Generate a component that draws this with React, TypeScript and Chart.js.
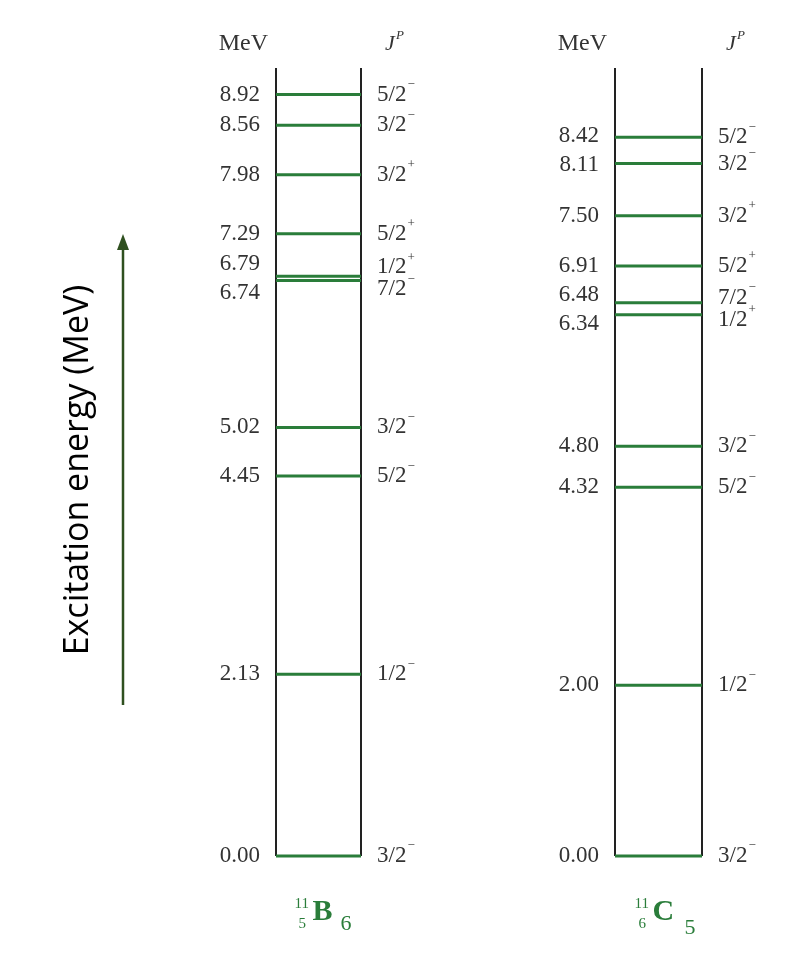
import React, { useEffect, useRef } from "react";
import { Chart, registerables } from "chart.js";
Chart.register(...registerables);

const b11Energies = [0.0, 2.13, 4.45, 5.02, 6.74, 6.79, 7.29, 7.98, 8.56, 8.92];
const b11Spins = ["3/2-", "1/2-", "5/2-", "3/2-", "7/2-", "1/2+", "5/2+", "3/2+", "3/2-", "5/2-"];
const c11Energies = [0.0, 2.0, 4.32, 4.8, 6.34, 6.48, 6.91, 7.5, 8.11, 8.42];
const c11Spins = ["3/2-", "1/2-", "5/2-", "3/2-", "1/2+", "7/2-", "5/2+", "3/2+", "3/2-", "5/2-"];
const nuclei = [
  { a: "11", z: "5", sym: "B", n: "6" },
  { a: "11", z: "6", sym: "C", n: "5" },
];
const yMax = 9.23;

function spread(ys: number[], gap: number): number[] {
  const idx = ys.map((_, i) => i).sort((a, b) => ys[a] - ys[b]);
  const p = idx.map((i) => ys[i]);
  for (let it = 0; it < 200; it++) {
    let moved = false;
    for (let k = 0; k < p.length - 1; k++) {
      const d = p[k + 1] - p[k];
      if (d < gap - 0.01) {
        const s = (gap - d) / 2;
        p[k] -= s; p[k + 1] += s; moved = true;
      }
    }
    if (!moved) break;
  }
  const out = new Array(ys.length);
  idx.forEach((i, k) => (out[i] = p[k]));
  return out;
}

const serif = '"Liberation Serif", "DejaVu Serif", serif';
const green = "#2a7d3a";

const schemePlugin = {
  id: "scheme",
  afterDraw(chart: any) {
    const ctx = chart.ctx;
    const xs = chart.scales.x, ys = chart.scales.y;
    const cols = [
      { x0: 276, x1: 361, e: b11Energies, j: b11Spins, nuc: nuclei[0] },
      { x0: 615, x1: 702, e: c11Energies, j: c11Spins, nuc: nuclei[1] },
    ];
    ctx.save();
    ctx.save();
    ctx.translate(78, 470);
    ctx.rotate(-Math.PI / 2);
    ctx.fillStyle = "#000";
    ctx.font = '34px "Open Sans", sans-serif';
    ctx.textAlign = "center"; ctx.textBaseline = "middle";
    ctx.fillText("Excitation energy (MeV)", 0, 0);
    ctx.restore();
    ctx.strokeStyle = "#2f5020"; ctx.fillStyle = "#2f5020"; ctx.lineWidth = 2.5;
    ctx.beginPath(); ctx.moveTo(123, 705); ctx.lineTo(123, 248); ctx.stroke();
    ctx.beginPath(); ctx.moveTo(123, 234); ctx.lineTo(117, 250); ctx.lineTo(129, 250); ctx.closePath(); ctx.fill();

    for (const c of cols) {
      const X0 = xs.getPixelForValue(c.x0), X1 = xs.getPixelForValue(c.x1);
      const top = ys.getPixelForValue(yMax), bot = ys.getPixelForValue(0);
      ctx.strokeStyle = "#222"; ctx.lineWidth = 2;
      ctx.beginPath(); ctx.moveTo(X0, top); ctx.lineTo(X0, bot); ctx.moveTo(X1, top); ctx.lineTo(X1, bot); ctx.stroke();
      ctx.fillStyle = "#333"; ctx.font = "24px " + serif; ctx.textBaseline = "middle";
      ctx.textAlign = "right"; ctx.fillText("MeV", X0 - 8, 44);
      ctx.textAlign = "left"; ctx.font = "italic 22px " + serif; ctx.fillText("J", X1 + 24, 44);
      ctx.font = "italic 13px " + serif; ctx.fillText("P", X1 + 35, 36);
      const py = c.e.map((v) => ys.getPixelForValue(v));
      ctx.strokeStyle = green; ctx.lineWidth = 3;
      py.forEach((y) => { ctx.beginPath(); ctx.moveTo(X0, y); ctx.lineTo(X1, y); ctx.stroke(); });
      const ey = spread(py, 29), jy = spread(py, 22);
      ctx.fillStyle = "#333";
      c.e.forEach((v, i) => {
        ctx.font = "23px " + serif; ctx.textAlign = "right";
        ctx.fillText(v.toFixed(2), X0 - 16, ey[i]);
      });
      c.j.forEach((s, i) => {
        const base = s.slice(0, -1), sign = s.slice(-1) === "-" ? "\u2212" : "+";
        ctx.font = "23px " + serif; ctx.textAlign = "left";
        ctx.fillText(base, X1 + 16, jy[i]);
        const w = ctx.measureText(base).width;
        ctx.font = "13px " + serif;
        ctx.fillText(sign, X1 + 17 + w, jy[i] - 10);
      });
      const n = c.nuc;
      const cx = (X0 + X1) / 2 - 24;
      ctx.fillStyle = green; ctx.textAlign = "left";
      ctx.font = "15px " + serif; ctx.fillText(n.a, cx, 904); ctx.fillText(n.z, cx + 4, 924);
      ctx.font = "bold 30px " + serif; ctx.fillText(n.sym, cx + 18, 912);
      ctx.font = "22px " + serif; ctx.fillText(n.n, cx + 46 + (n.sym === "C" ? 4 : 0), 924 + (n.sym === "C" ? 4 : 0));
    }
    ctx.restore();
  },
};

export default function App() {
  const ref = useRef<HTMLCanvasElement>(null);
  useEffect(() => {
    document.body.style.margin = "0";
    const chart = new Chart(ref.current!, {
      type: "scatter",
      data: { datasets: [{ data: [], pointRadius: 0 }] },
      options: {
        animation: false, responsive: false, maintainAspectRatio: false,
        layout: { padding: { top: 68, bottom: 101, left: 0, right: 0 } },
        plugins: { legend: { display: false }, tooltip: { enabled: false } },
        scales: {
          x: { type: "linear", min: 0, max: 804, display: false },
          y: { type: "linear", min: 0, max: yMax, display: false },
        },
      },
      plugins: [schemePlugin],
    });
    return () => chart.destroy();
  }, []);
  return (
    <div style={{ width: 804, height: 957, background: "#fff" }}>
      <canvas ref={ref} width={804} height={957} style={{ display: "block", width: 804, height: 957 }} />
    </div>
  );
}
